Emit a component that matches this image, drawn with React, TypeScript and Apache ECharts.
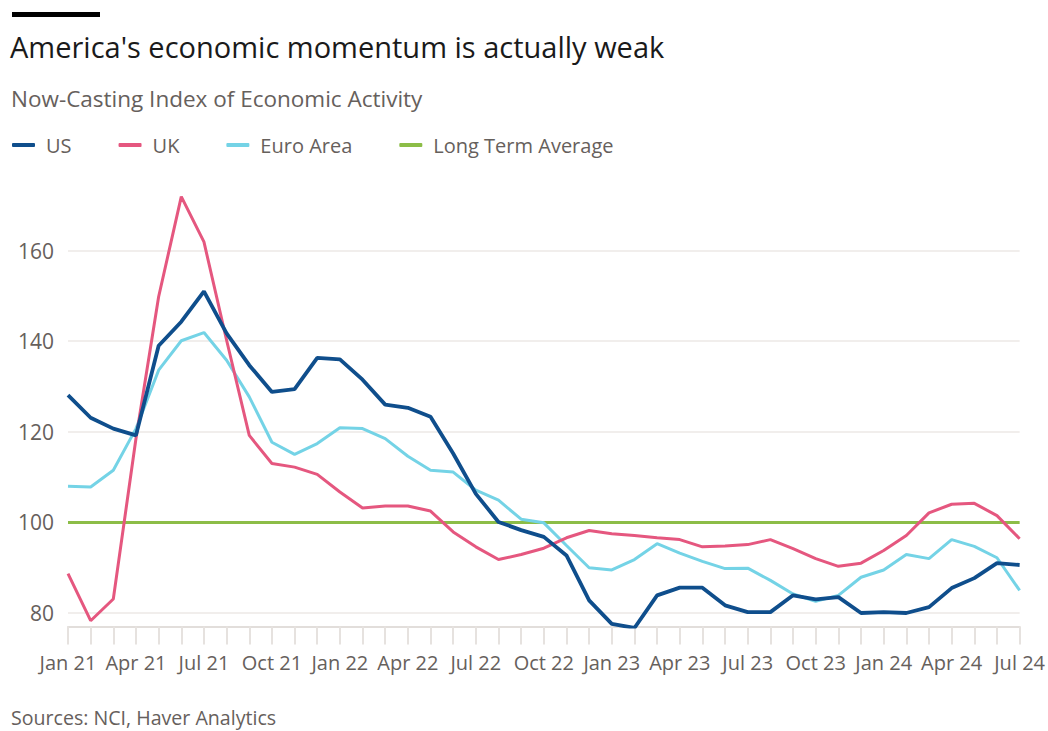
import React, { useEffect, useRef } from "react";
import * as echarts from "echarts";

const months = [
  "Jan 21", "Feb 21", "Mar 21", "Apr 21", "May 21", "Jun 21", "Jul 21", "Aug 21", "Sep 21", "Oct 21", "Nov 21", "Dec 21",
  "Jan 22", "Feb 22", "Mar 22", "Apr 22", "May 22", "Jun 22", "Jul 22", "Aug 22", "Sep 22", "Oct 22", "Nov 22", "Dec 22",
  "Jan 23", "Feb 23", "Mar 23", "Apr 23", "May 23", "Jun 23", "Jul 23", "Aug 23", "Sep 23", "Oct 23", "Nov 23", "Dec 23",
  "Jan 24", "Feb 24", "Mar 24", "Apr 24", "May 24", "Jun 24", "Jul 24",
];

const usValues = [
  128.1, 123.1, 120.7, 119.2, 139.0, 144.3, 151.0, 141.7, 134.7, 128.8, 129.4, 136.3,
  136.0, 131.5, 126.0, 125.3, 123.3, 115.2, 106.3, 100.1, 98.3, 96.8, 92.7, 82.8,
  77.6, 76.7, 83.9, 85.6, 85.6, 81.7, 80.2, 80.2, 83.9, 83.0, 83.5, 80.0,
  80.2, 80.0, 81.3, 85.5, 87.7, 91.0, 90.6,
];

const ukValues = [
  88.7, 78.3, 83.1, 118.5, 149.8, 171.9, 161.9, 140.2, 119.2, 113.0, 112.2, 110.6,
  106.7, 103.2, 103.6, 103.6, 102.5, 97.9, 94.6, 91.8, 92.9, 94.3, 96.6, 98.2,
  97.5, 97.1, 96.6, 96.2, 94.6, 94.8, 95.1, 96.2, 94.2, 92.0, 90.3, 91.0,
  93.8, 97.1, 102.1, 104.0, 104.2, 101.5, 96.4,
];

const euroValues = [
  108.0, 107.8, 111.5, 120.7, 133.6, 140.1, 141.9, 135.8, 127.7, 117.7, 115.0, 117.4,
  120.9, 120.7, 118.5, 114.6, 111.5, 111.1, 107.1, 104.9, 100.7, 99.9, 94.9, 90.0,
  89.5, 91.8, 95.3, 93.2, 91.4, 89.8, 89.9, 87.2, 84.2, 82.6, 83.9, 87.9,
  89.5, 92.9, 92.0, 96.2, 94.7, 92.2, 85.0,
];

const longTermAverage = 100;

const seriesNames = ["US", "UK", "Euro Area", "Long Term Average"];
const seriesColors = ["#0f4e8c", "#e5577f", "#74d3e6", "#8cbd47"];

const FONT = "'Open Sans', 'Noto Sans', sans-serif";
const GREY = "#66605c";

export default function App() {
  const ref = useRef<HTMLDivElement>(null);

  useEffect(() => {
    if (!ref.current) return;
    const chart = echarts.init(ref.current, undefined, { renderer: "svg" });
    const option = {
      animation: false,
      backgroundColor: "#ffffff",
      textStyle: { fontFamily: FONT },
      graphic: [
        {
          type: "rect",
          left: 12,
          top: 12,
          shape: { width: 88, height: 5 },
          style: { fill: "#000000" },
        },
      ],
      title: [
        {
          text: "America's economic momentum is actually weak",
          left: 10,
          top: 32,
          padding: 0,
          textStyle: { fontSize: 29, fontWeight: "normal", color: "#1a1a1a", fontFamily: FONT },
        },
        {
          text: "Now-Casting Index of Economic Activity",
          left: 11,
          top: 87,
          padding: 0,
          textStyle: { fontSize: 22.5, fontWeight: "normal", color: GREY, fontFamily: FONT },
        },
        {
          text: "Sources: NCI, Haver Analytics",
          left: 11,
          top: 707,
          padding: 0,
          textStyle: { fontSize: 19.6, fontWeight: "normal", color: GREY, fontFamily: FONT },
        },
      ],
      legend: {
        left: 12,
        top: 135,
        padding: 0,
        icon: "roundRect",
        itemWidth: 23,
        itemHeight: 4,
        itemGap: 47,
        data: seriesNames,
        textStyle: { fontSize: 20, color: GREY, fontFamily: FONT, padding: [0, 0, 0, 6] },
      },
      grid: { left: 68, right: 28, top: 182.6, bottom: 104.4 },
      xAxis: {
        type: "category",
        data: months,
        boundaryGap: false,
        axisLine: { show: true, lineStyle: { color: "#e2dedb", width: 2 } },
        axisTick: { show: true, interval: 0, length: 18, lineStyle: { color: "#e6e2df", width: 2 } },
        axisLabel: { interval: 2, margin: 26, fontSize: 20, color: GREY, fontFamily: FONT },
        splitLine: { show: false },
      },
      yAxis: {
        type: "value",
        min: 77,
        max: 175,
        axisLine: { show: false },
        axisTick: { show: false },
        splitLine: {
          show: true,
          showMinLine: false,
          showMaxLine: false,
          lineStyle: { color: "#f1eeec", width: 2 },
        },
        axisLabel: {
          fontSize: 21,
          color: GREY,
          margin: 14,
          showMinLabel: false,
          showMaxLabel: false,
          fontFamily: FONT,
        },
      },
      series: [
        {
          name: seriesNames[3],
          type: "line",
          data: months.map(() => longTermAverage),
          symbol: "none",
          color: seriesColors[3],
          lineStyle: { width: 3, color: seriesColors[3] },
          z: 1,
        },
        {
          name: seriesNames[2],
          type: "line",
          data: euroValues,
          symbol: "none",
          color: seriesColors[2],
          lineStyle: { width: 3, color: seriesColors[2] },
          z: 2,
        },
        {
          name: seriesNames[1],
          type: "line",
          data: ukValues,
          symbol: "none",
          color: seriesColors[1],
          lineStyle: { width: 3, color: seriesColors[1] },
          z: 3,
        },
        {
          name: seriesNames[0],
          type: "line",
          data: usValues,
          symbol: "none",
          color: seriesColors[0],
          lineStyle: { width: 3.8, color: seriesColors[0] },
          z: 4,
        },
      ],
    };
    chart.setOption(option);
    return () => {
      chart.dispose();
    };
  }, []);

  return (
    <div
      ref={ref}
      style={{ position: "fixed", left: 0, top: 0, width: 1048, height: 731, background: "#fff" }}
    />
  );
}
